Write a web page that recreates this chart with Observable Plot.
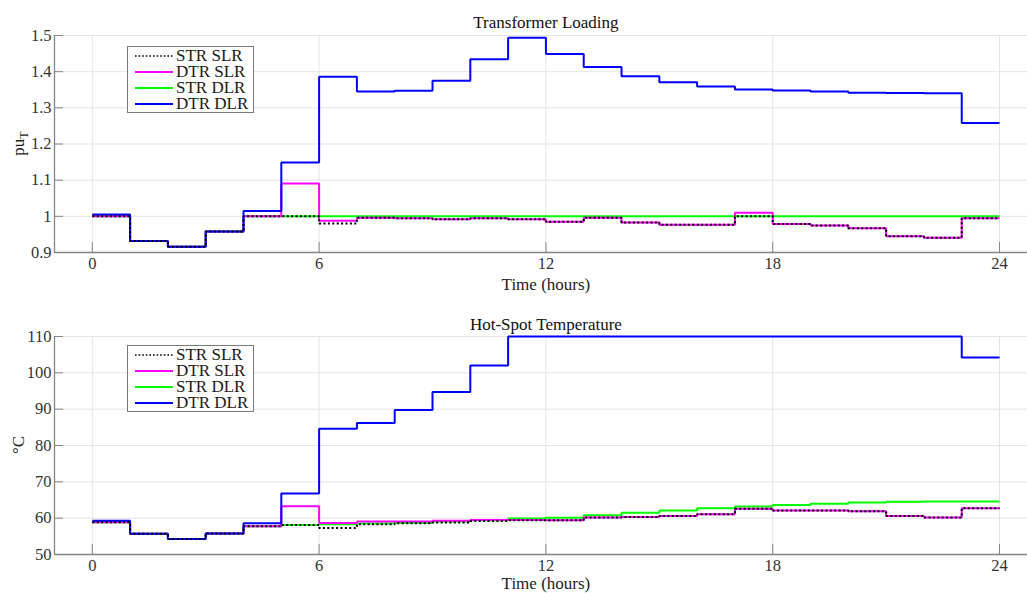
<!DOCTYPE html>
<html>
<head>
<meta charset="utf-8">
<script src="https://cdn.jsdelivr.net/npm/d3@7"></script>
<script src="https://cdn.jsdelivr.net/npm/@observablehq/plot@0.6"></script>
<style>
  html, body { margin: 0; padding: 0; background: #fff; }
  body { font-family: "Liberation Serif", "Times New Roman", serif; }
  #wrap { position: relative; width: 1027px; height: 593px; overflow: hidden; }
  .panel { position: absolute; left: 0; }
  .panel svg g[aria-label*="axis"] text { font-size: 16.5px; fill: #333; font-family: "Liberation Serif", "Times New Roman", serif; }
  .legend { position: absolute; box-sizing: border-box; width: 127px; height: 67px;
            background: #fff; border: 1px solid #7a7a7a;
            font-family: "Liberation Serif", "Times New Roman", serif; font-size: 17px; color: #1a1a1a; }
  .legend .row { position: relative; height: 16px; line-height: 16px; white-space: nowrap; }
  .legend svg { position: absolute; left: 6px; top: 0; }
  .legend span { position: absolute; left: 48px; top: 0px; }
</style>
</head>
<body>
<div id="wrap"></div>
<script>
// ---------------- data ----------------
const hoursOfDay = d3.range(0, 24);          // hour index of each step (0..23)
const xTicks = [0, 6, 12, 18, 24];
const seriesNames = ["STR SLR", "DTR SLR", "STR DLR", "DTR DLR"];
const seriesColors = ["#000000", "#ff00ff", "#00ff00", "#0000ff"];

// Transformer loading (pu_T)
const loadTicks = [0.9, 1.0, 1.1, 1.2, 1.3, 1.4, 1.5];
const loadStrSlr = [1.000, 0.932, 0.916, 0.958, 1.000, 1.000, 0.980, 0.996, 0.995, 0.992, 0.995, 0.992,
                    0.985, 0.996, 0.983, 0.977, 0.977, 1.000, 0.979, 0.975, 0.967, 0.945, 0.941, 0.995];
const loadDtrSlr = [1.000, 0.932, 0.916, 0.958, 1.000, 1.091, 0.988, 0.996, 0.995, 0.992, 0.995, 0.992,
                    0.985, 0.996, 0.983, 0.977, 0.977, 1.010, 0.979, 0.975, 0.967, 0.945, 0.941, 0.995];
const loadStrDlr = [1.000, 0.932, 0.916, 0.958, 1.000, 1.000, 1.000, 1.000, 1.000, 1.000, 1.000, 1.000,
                    1.000, 1.000, 1.000, 1.000, 1.000, 1.000, 1.000, 1.000, 1.000, 1.000, 1.000, 1.000];
const loadDtrDlr = [1.005, 0.932, 0.916, 0.958, 1.015, 1.149, 1.386, 1.345, 1.347, 1.375, 1.434, 1.494,
                    1.449, 1.413, 1.387, 1.371, 1.359, 1.351, 1.348, 1.345, 1.342, 1.341, 1.340, 1.258];

// Hot-spot temperature (°C)
const tempTicks = [50, 60, 70, 80, 90, 100, 110];
const tempStrSlr = [58.9, 55.7, 54.3, 55.8, 57.8, 58.1, 57.3, 58.3, 58.6, 58.8, 59.2, 59.4,
                    59.4, 60.2, 60.3, 60.6, 61.1, 62.6, 62.1, 62.1, 61.9, 60.6, 60.2, 62.7];
const tempDtrSlr = [58.9, 55.7, 54.3, 55.8, 57.8, 63.3, 58.7, 59.1, 59.1, 59.3, 59.5, 59.5,
                    59.4, 60.2, 60.3, 60.6, 61.1, 62.6, 62.1, 62.1, 61.9, 60.6, 60.2, 62.7];
const tempStrDlr = [58.9, 55.7, 54.3, 55.8, 57.8, 58.1, 58.3, 58.5, 58.7, 59.1, 59.4, 59.9,
                    60.1, 60.8, 61.5, 62.1, 62.7, 63.2, 63.6, 64.0, 64.3, 64.5, 64.6, 64.6];
const tempDtrDlr = [59.3, 55.7, 54.3, 55.8, 58.6, 66.8, 84.6, 86.2, 89.8, 94.7, 102.0, 110.0,
                    110.0, 110.0, 110.0, 110.0, 110.0, 110.0, 110.0, 110.0, 110.0, 110.0, 110.0, 104.2];

// ---------------- helpers ----------------
// each hourly value is held from hour h to h+1; the last step ends at 24
function stairs(values) {
  const rows = hoursOfDay.map(h => ({hour: h, value: values[h]}));
  rows.push({hour: 24, value: values[values.length - 1]});
  return rows;
}

const X_DOMAIN = [-1, 24.74];
const FONT = "Liberation Serif";
const GRID = "#e4e4e4";
const AXIS = "#858585";

function panel({values, yDomain, yTicks, yFormat, title, height, marginTop, marginBottom, titleDy, xLabelDy}) {
  const ySpan = yDomain[1] - yDomain[0];
  const plotH = height - marginTop - marginBottom;
  const plotW = 1027 - 54;
  const xSpan = X_DOMAIN[1] - X_DOMAIN[0];
  const order = [2, 1, 3, 0]; // draw green, magenta, blue, then dotted black on top
  const lineMarks = order.map(i => Plot.line(stairs(values[i]), {
    x: "hour", y: "value", curve: "step-after",
    stroke: seriesColors[i], strokeWidth: 2,
    strokeLinecap: "butt", strokeLinejoin: "miter",
    strokeDasharray: i === 0 ? "2,2.4" : null
  }));
  return Plot.plot({
    width: 1027, height, marginLeft: 54, marginRight: 0, marginTop, marginBottom,
    style: {fontFamily: FONT, fontSize: "17px", color: "#333", background: "#fff", overflow: "visible"},
    x: {domain: X_DOMAIN, ticks: xTicks, tickSize: 0, tickPadding: 5, label: null},
    y: {domain: yDomain, ticks: yTicks, tickSize: 0, tickPadding: 3, tickFormat: yFormat, label: null},
    marks: [
      Plot.ruleX(xTicks, {stroke: GRID, strokeWidth: 1}),
      Plot.ruleY(yTicks, {stroke: GRID, strokeWidth: 1}),
      Plot.ruleY([yDomain[0]], {stroke: AXIS, strokeWidth: 1.3}),
      Plot.ruleX([X_DOMAIN[0]], {stroke: AXIS, strokeWidth: 1.3}),
      Plot.ruleX(xTicks, {y1: yDomain[0], y2: yDomain[0] + ySpan * 10 / plotH, stroke: AXIS, strokeWidth: 1}),
      Plot.ruleY(yTicks, {x1: X_DOMAIN[0], x2: X_DOMAIN[0] + xSpan * 9 / plotW, stroke: AXIS, strokeWidth: 1}),
      ...lineMarks,
      Plot.text([title], {x: () => 12, frameAnchor: "top", lineAnchor: "middle", dy: titleDy, fontSize: 17, fill: "#111", fontFamily: FONT}),
      Plot.text(["Time (hours)"], {x: () => 12, frameAnchor: "bottom", lineAnchor: "middle", dy: xLabelDy, fontSize: 17, fill: "#222", fontFamily: FONT})
    ]
  });
}

const fmtLoad = v => String(+v.toFixed(1));
const fmtTemp = v => String(v);

const wrap = document.getElementById("wrap");

function addLegend(topPx) {
  const lg = document.createElement("div");
  lg.className = "legend";
  lg.style.left = "127px";
  lg.style.top = topPx + "px";
  seriesNames.forEach((name, i) => {
    const row = document.createElement("div");
    row.className = "row";
    if (i === 0) row.style.marginTop = "1px";
    row.innerHTML = `<svg width="42" height="16"><line x1="1" x2="39" y1="8" y2="8" stroke="${seriesColors[i]}" stroke-width="${i === 0 ? 1.6 : 2}" ${i === 0 ? 'stroke-dasharray="1.6,2"' : ''}/></svg><span>${name}</span>`;
    lg.appendChild(row);
  });
  wrap.appendChild(lg);
}

function addYLabel(svg, cy, mainText, subText) {
  const t = d3.select(svg).append("text")
    .attr("transform", `translate(24,${cy}) rotate(-90)`)
    .attr("text-anchor", "middle")
    .attr("fill", "#222")
    .style("font-family", FONT)
    .style("font-size", "17px");
  t.append("tspan").text(mainText);
  if (subText) t.append("tspan").attr("dy", "0.35em").style("font-size", "12px").text(subText);
}

// top panel
const topPlot = panel({
  values: [loadStrSlr, loadDtrSlr, loadStrDlr, loadDtrDlr],
  yDomain: [0.9, 1.5], yTicks: loadTicks, yFormat: fmtLoad,
  title: "Transformer Loading", height: 296, marginTop: 35, marginBottom: 44,
  titleDy: -12.5, xLabelDy: 32.5
});
const topDiv = document.createElement("div");
topDiv.className = "panel"; topDiv.style.top = "0px";
topDiv.appendChild(topPlot);
wrap.appendChild(topDiv);
addYLabel(topPlot, 35 + (296 - 35 - 44) / 2, "pu", "T");

// bottom panel
const bottomPlot = panel({
  values: [tempStrSlr, tempDtrSlr, tempStrDlr, tempDtrDlr],
  yDomain: [50, 110], yTicks: tempTicks, yFormat: fmtTemp,
  title: "Hot-Spot Temperature", height: 297, marginTop: 40, marginBottom: 39,
  titleDy: -12, xLabelDy: 29.5
});
const botDiv = document.createElement("div");
botDiv.className = "panel"; botDiv.style.top = "296px";
botDiv.appendChild(bottomPlot);
wrap.appendChild(botDiv);
addYLabel(bottomPlot, 40 + (297 - 40 - 39) / 2, "°C", null);

addLegend(46);
addLegend(345);
</script>
</body>
</html>
